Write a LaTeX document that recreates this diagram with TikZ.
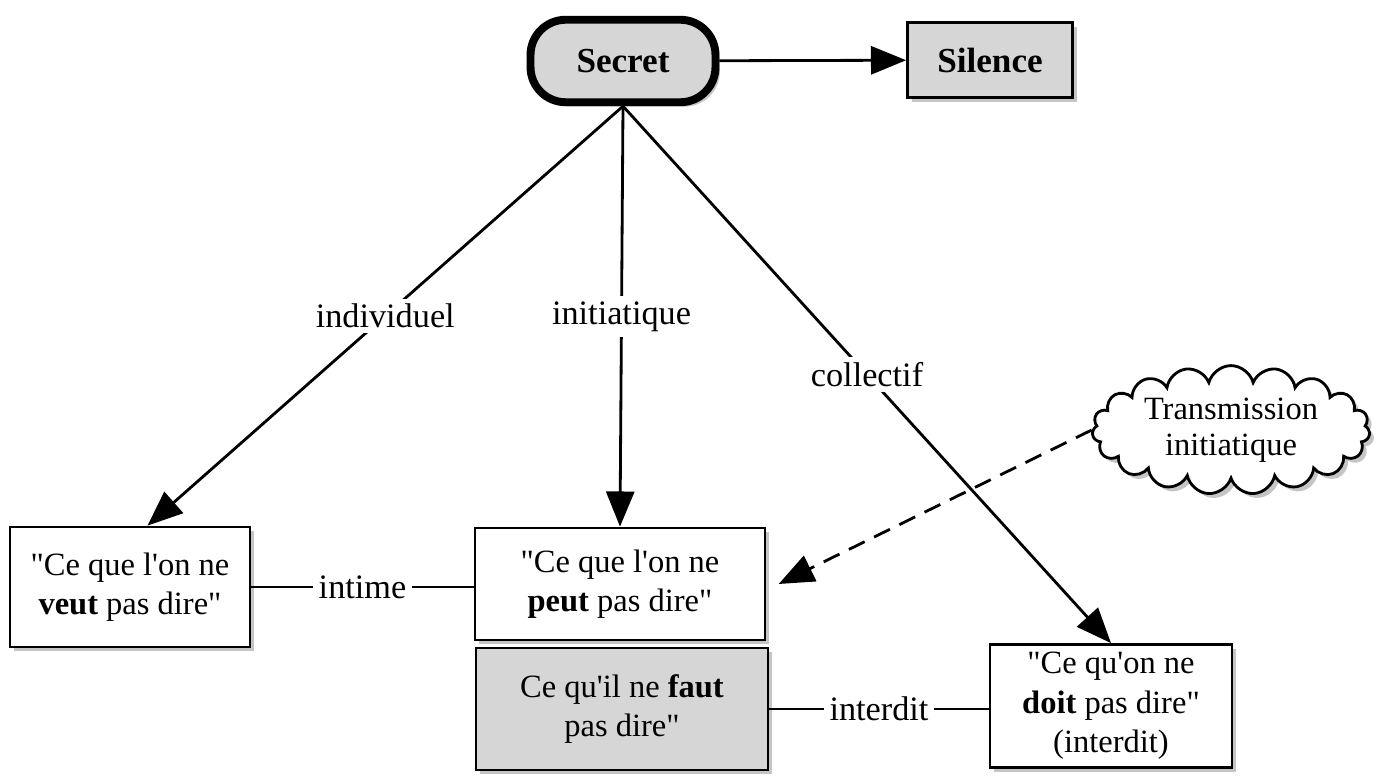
\documentclass[tikz,border=0pt]{standalone}
\usepackage{fontspec}
\setmainfont{Liberation Serif}
\usetikzlibrary{arrows.meta,shapes.symbols,shadows}

\tikzset{
  box/.style={draw, line width=1.6pt, fill=white, align=center, inner sep=2pt,
    drop shadow={shadow xshift=2.5pt, shadow yshift=-2.5pt, fill=black!45}},
  greybox/.style={box, fill=black!16},
  lbl/.style={fill=white, inner sep=3pt, font=\fontsize{19.5}{23}\selectfont},
  tip/.style={-{Triangle[length=20pt,width=16pt]}, line width=1.6pt},
}

\begin{document}
\begin{tikzpicture}[x=0.02cm, y=-0.02cm, font=\fontsize{18.5}{22.5}\selectfont]
    \useasboundingbox (0,0) rectangle (1376,777);
    \node [greybox, rounded corners=20pt, line width=4.5pt, minimum width=3.7cm, minimum height=1.65cm, font=\fontsize{20}{24}\selectfont\bfseries] (secret) at (623,61) {Secret};
    \node [greybox, minimum width=3.3cm, minimum height=1.5cm, font=\fontsize{20}{24}\selectfont\bfseries] (silence) at (990,60) {Silence};
    \node [box, minimum width=4.8cm, minimum height=2.4cm] (veut) at (130,587) {\textquotedbl Ce que l\textquotesingle on ne\\\textbf{veut} pas dire\textquotedbl};
    \node [box, minimum width=5.8cm, minimum height=2.24cm] (peut) at (620,584) {\textquotedbl Ce que l\textquotesingle on ne\\\textbf{peut} pas dire\textquotedbl};
    \node [greybox, minimum width=5.84cm, minimum height=2.44cm] (faut) at (622,709) {Ce qu\textquotesingle il ne \textbf{faut}\\pas dire\textquotedbl};
    \node [box, minimum width=4.84cm, minimum height=2.46cm] (doit) at (1111,706) {\textquotedbl Ce qu\textquotesingle on ne\\\textbf{doit} pas dire\textquotedbl\\(interdit)};
    \node [cloud, draw, line width=1.6pt, fill=white, cloud puffs=19, cloud puff arc=150, aspect=2.8, inner xsep=-4pt, inner ysep=1pt, minimum width=5.3cm, minimum height=1.9cm, align=center, font=\fontsize{18.5}{20.5}\selectfont, drop shadow={shadow xshift=2.5pt, shadow yshift=-2.5pt, fill=black!45}] (transmission) at (1231,430) {Transmission\\initiatique};

    \draw [tip] (secret) -- (silence);
    \draw [tip] (secret.south) -- node [lbl] {individuel} ([xshift=0.35cm]veut.north);
    \draw [tip] (secret.south) -- node [lbl] {initiatique} (peut.north);
    \draw [tip] (secret.south) -- node [lbl] {collectif} (doit.north);
    \draw [tip, dash pattern=on 10pt off 6pt] (transmission.west) -- ([xshift=7pt]peut.east);
    \draw [line width=1.6pt] (veut.east) -- node [lbl] {intime} (veut.east -| peut.west);
    \draw [line width=1.6pt] (faut.east) -- node [lbl] {interdit} (faut.east -| doit.west);
  \end{tikzpicture}
\end{document}
